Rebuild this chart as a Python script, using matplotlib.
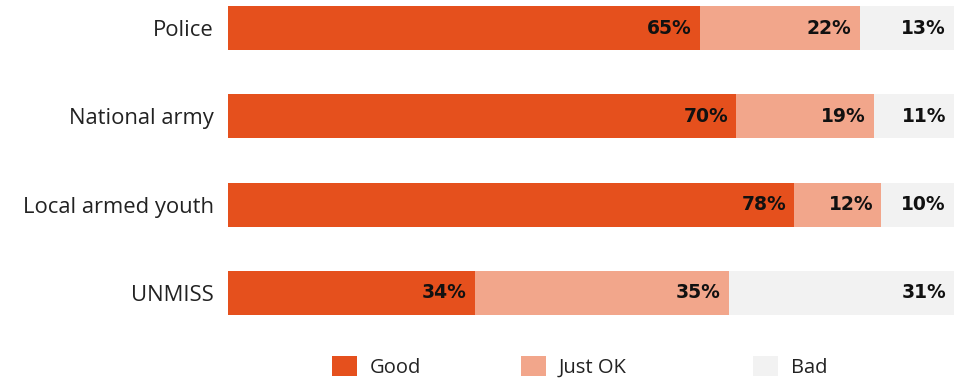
import matplotlib.pyplot as plt
from matplotlib.patches import Patch

plt.rcParams['font.family'] = ['Open Sans', 'DejaVu Sans']

categories = ['Police', 'National army', 'Local armed youth', 'UNMISS']
good = [65, 70, 78, 34]
just_ok = [22, 19, 12, 35]
bad = [13, 11, 10, 31]

series = ['Good', 'Just OK', 'Bad']
colors = ['#E5501D', '#F2A68B', '#F2F2F2']

fig = plt.figure(figsize=(9.61, 3.83), dpi=100)
ax = fig.add_axes([228 / 961, 1 - 315 / 383, 726 / 961, 309 / 383])

ypos = list(range(len(categories)))
left = [0] * len(categories)
for vals, col in zip([good, just_ok, bad], colors):
    bars = ax.barh(ypos, vals, left=left, height=0.5, color=col, edgecolor='none')
    for b, v in zip(bars, vals):
        ax.text(b.get_x() + b.get_width() - 1.1, b.get_y() + b.get_height() / 2,
                f'{v}%', ha='right', va='center', fontsize=13.5, fontweight='bold',
                family='DejaVu Sans', color='#111111')
    left = [l + v for l, v in zip(left, vals)]

ax.set_xlim(0, 100)
ax.set_ylim(3.25, -0.25)
ax.set_yticks(ypos)
ax.set_yticklabels(categories, fontsize=15.8, color='#222222')
ax.tick_params(axis='y', length=0, pad=10)
ax.set_xticks([])
for s in ax.spines.values():
    s.set_visible(False)

# legend entries placed one by one (uneven spacing in the original)
legend_x = [332, 521, 753]
for name, col, x in zip(series, colors, legend_x):
    fig.legend(handles=[Patch(facecolor=col, edgecolor='none')], labels=[name],
               loc='center left', bbox_to_anchor=(x / 961, 1 - 367 / 383),
               frameon=False, fontsize=14.5, handlelength=1.24, handleheight=1.14,
               handletextpad=0.65, borderpad=0, borderaxespad=0,
               labelcolor='#222222')

fig.savefig('out.png', dpi=100)
